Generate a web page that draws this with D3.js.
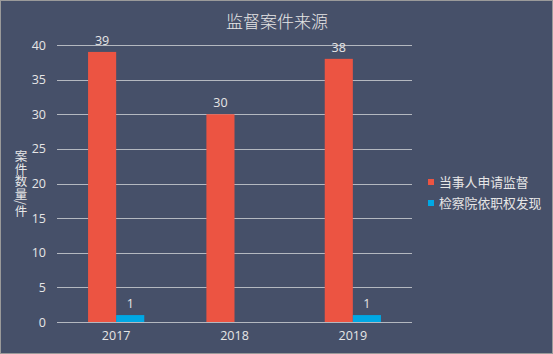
<!DOCTYPE html>
<html><head><meta charset="utf-8">
<script src="https://cdn.jsdelivr.net/npm/d3@7"></script>
<style>
html,body{margin:0;padding:0;background:#465069;}
svg{display:block;}
</style></head>
<body>
<svg id="c" width="553" height="354"></svg>
<script>
const years = ["2017", "2018", "2019"];
const seriesNames = ["当事人申请监督", "检察院依职权发现"];
const partyValues = [39, 30, 38];
const procValues = [1, 0, 1];
const yTicks = [0, 5, 10, 15, 20, 25, 30, 35, 40];
const yTitle = "案件数量/件";
const colors = ["#EC5442", "#00A8E4"];

const svg = d3.select("#c");
const W = 553, H = 354;
const font = "'Open Sans','Noto Sans CJK SC',sans-serif";
const cjk = "'Noto Sans CJK SC',sans-serif";
const textCol = "#e6e6e6";

svg.append("rect").attr("x",0.5).attr("y",0.5).attr("width",W-1).attr("height",H-1)
  .attr("fill","#465069").attr("stroke","#9a9a9a");

const x0 = d3.scaleBand().domain(years).range([57, 412]).paddingInner(0.525).paddingOuter(0.2625);
const x1 = d3.scaleBand().domain([0,1]).range([0, x0.bandwidth()]);
const y = d3.scaleLinear().domain([0, 40]).range([322, 45]);

// gridlines
svg.append("g").selectAll("line").data(yTicks).join("line")
  .attr("x1",57).attr("x2",412)
  .attr("y1",d=>Math.round(y(d))+0.5).attr("y2",d=>Math.round(y(d))+0.5)
  .attr("stroke","#b4b8c0").attr("stroke-width",1);

// y tick labels
const yAxis = d3.axisLeft(y).tickValues(yTicks).tickSize(0).tickPadding(0);
const ya = svg.append("g").attr("transform","translate(46,0)").call(yAxis);
ya.select(".domain").remove();
ya.selectAll("text").attr("fill",textCol).attr("font-size",12.5).attr("font-family",font);

// x labels
const xAxis = d3.axisBottom(x0).tickSize(0).tickPadding(0);
const xa = svg.append("g").attr("transform","translate(0,330)").call(xAxis);
xa.select(".domain").remove();
xa.selectAll("text").attr("fill",textCol).attr("font-size",12.5).attr("font-family",font).attr("dy","0.8em");

const data = years.map((yr,i)=>({yr, vals:[partyValues[i], procValues[i]]}));
const groups = svg.append("g").selectAll("g").data(data).join("g")
  .attr("transform",d=>`translate(${x0(d.yr)},0)`);
groups.selectAll("rect").data(d=>d.vals.map((v,k)=>({v,k}))).join("rect")
  .attr("x",d=>x1(d.k)).attr("width",x1.bandwidth())
  .attr("y",d=>y(d.v)).attr("height",d=>y(0)-y(d.v))
  .attr("fill",d=>colors[d.k]);
groups.selectAll("text").data(d=>d.vals.map((v,k)=>({v,k})).filter(e=>e.v>0)).join("text")
  .attr("x",d=>x1(d.k)+x1.bandwidth()/2).attr("y",d=>y(d.v)-7)
  .attr("text-anchor","middle").attr("fill",textCol).attr("font-size",12.5).attr("font-family",font)
  .text(d=>d.v);

// title
svg.append("text").attr("x",277).attr("y",28).attr("text-anchor","middle")
  .attr("fill",textCol).attr("font-size",17).attr("font-weight",300).attr("font-family",cjk)
  .text("监督案件来源");

// y axis title (vertical writing)
svg.append("text").attr("x",21).attr("y",150)
  .attr("style","writing-mode:vertical-rl")
  .attr("fill",textCol).attr("font-size",12.5).attr("font-family",cjk)
  .text(yTitle);

// legend
const lg = svg.append("g").selectAll("g").data(seriesNames).join("g")
  .attr("transform",(d,i)=>`translate(428,${179+i*21})`);
lg.append("rect").attr("width",6).attr("height",6).attr("fill",(d,i)=>colors[i]);
lg.append("text").attr("x",11).attr("y",3).attr("dy","0.36em")
  .attr("fill",textCol).attr("font-size",12.8).attr("font-family",cjk).text(d=>d);
</script>
</body></html>
